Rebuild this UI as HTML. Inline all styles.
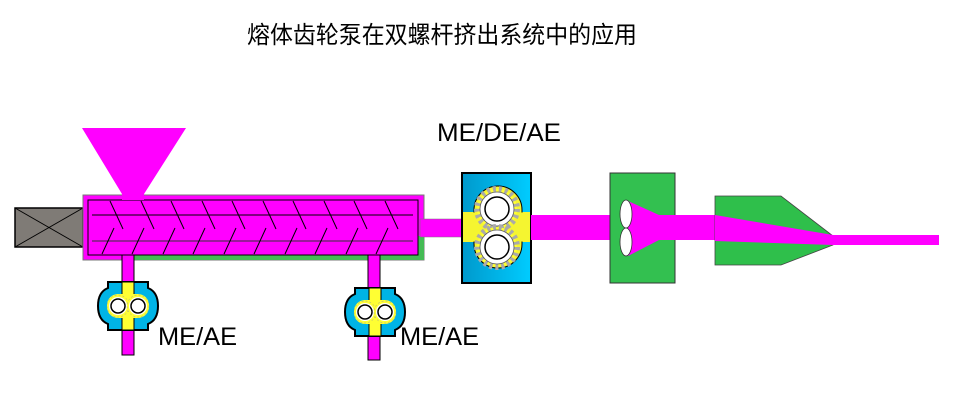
<!DOCTYPE html>
<html><head><meta charset="utf-8"><style>
html,body{margin:0;padding:0;background:#fff;}
svg{display:block;}
</style></head><body>
<svg width="979" height="403" viewBox="0 0 979 403" xmlns="http://www.w3.org/2000/svg">
<defs>
<linearGradient id="bl" x1="0" x2="1"><stop offset="0" stop-color="#0099cc"/><stop offset="1" stop-color="#00ccff"/></linearGradient>
<g id="gear">
<circle r="11" fill="#ffff33" stroke="#999" stroke-width="0.5" stroke-dasharray="2 2"/>
<circle r="9" fill="#fff"/>
<circle r="7" fill="#fff" stroke="#000" stroke-width="1.5"/>
</g>
<g id="bgear">
<circle r="20" fill="#ffff33" stroke="#aaa" stroke-width="6" stroke-dasharray="3 3"/>
<circle r="17" fill="#fff" stroke="#555" stroke-width="0.8"/>
<circle r="12" fill="#fff" stroke="#000" stroke-width="1.5"/>
</g>
<g id="spump">
<path d="M-20,-24 H20 V-18 Q30,-14 30,0 Q30,14 20,18 V24 H-20 V18 Q-30,14 -30,0 Q-30,-14 -20,-18 Z" fill="#00b4e6" stroke="#000" stroke-width="2"/>
<rect x="-6" y="-24" width="12" height="48" fill="#ffff33" stroke="#000" stroke-width="1"/>
<rect x="-21" y="-12" width="42" height="24" rx="11" fill="#ffff33"/>
<use href="#gear" x="-10" y="0"/>
<use href="#gear" x="10" y="0"/>
</g>
</defs>
<text x="247" y="43" font-family="'Liberation Sans','Noto Sans CJK SC',sans-serif" font-size="24" textLength="390" lengthAdjust="spacingAndGlyphs">熔体齿轮泵在双螺杆挤出系统中的应用</text>

<rect x="15" y="208" width="68" height="39" fill="#7f7b76" stroke="#000" stroke-width="1.5"/>
<line x1="15" y1="208" x2="83" y2="247" stroke="#000"/><line x1="15" y1="247" x2="83" y2="208" stroke="#000"/>
<rect x="83" y="195" width="341" height="65" fill="#ff00ff" stroke="#777" stroke-width="1"/>
<path d="M133,255 H418 V236 H424 V260 H133 Z" fill="#44bb55"/>
<rect x="88" y="200" width="330" height="55" fill="none" stroke="#000" stroke-width="1"/>
<line x1="92" y1="215" x2="413" y2="215" stroke="#000"/>
<line x1="92" y1="241" x2="413" y2="241" stroke="#333"/>
<g stroke="#000" stroke-width="1">
<path d="M110,201 l13,28 M141,201 l13,28 M171,201 l13,28 M202,201 l13,28 M232,201 l13,28 M263,201 l13,28 M293,201 l13,28 M324,201 l13,28 M354,201 l13,28 M385,201 l13,28"/>
<path d="M114,228 l-12,26 M144,228 l-12,26 M175,228 l-12,26 M205,228 l-12,26 M236,228 l-12,26 M266,228 l-12,26 M297,228 l-12,26 M327,228 l-12,26 M358,228 l-12,26 M388,228 l-12,26"/>
</g>
<polygon points="82,128 186,128 144,194 144,200 122,200 122,194" fill="#ff00ff"/>
<rect x="122" y="255" width="12" height="100" fill="#ff00ff" stroke="#000" stroke-width="1"/>
<rect x="368" y="255" width="12" height="105" fill="#ff00ff" stroke="#000" stroke-width="1"/>
<rect x="122.5" y="256" width="11" height="6" fill="#ff00ff"/>
<rect x="368.5" y="256" width="11" height="6" fill="#ff00ff"/>
<use href="#spump" x="128" y="306"/>
<use href="#spump" x="375" y="312"/>
<rect x="420" y="219" width="44" height="18" fill="#ff00ff" stroke="#777" stroke-width="0.5"/>
<rect x="462" y="173" width="69" height="110" fill="url(#bl)" stroke="#000" stroke-width="2"/>
<rect x="463" y="212" width="67" height="30" fill="#f5f530"/>
<rect x="474" y="186" width="48" height="82" rx="24" fill="#f5f530" stroke="#000" stroke-width="1"/>
<rect x="463" y="212.5" width="67" height="29" fill="#f5f530"/>
<use href="#bgear" x="497" y="209"/>
<use href="#bgear" x="497" y="247"/>
<rect x="531" y="215" width="90" height="25" fill="#ff00ff"/>
<rect x="610" y="173" width="65" height="110" fill="#33c050" stroke="#333" stroke-width="1"/>
<polygon points="628,201 659,215 715,215 715,240 659,240 628,256" fill="#ff00ff"/>
<ellipse cx="626" cy="214" rx="6" ry="14" fill="#fff" stroke="#333" stroke-width="0.8"/>
<ellipse cx="626" cy="242" rx="6" ry="14" fill="#fff" stroke="#333" stroke-width="0.8"/>
<polygon points="715,196 781,196 833,236 833,245 781,265 715,265" fill="#2fbf4b" stroke="#444" stroke-width="0.8"/>
<polygon points="715,215 833,235 939,235 939,245 833,245 715,241" fill="#ff00ff"/>
<g font-family="'Liberation Sans',sans-serif" font-size="25" fill="#000">
<text x="437" y="141" textLength="124" lengthAdjust="spacingAndGlyphs">ME/DE/AE</text>
<text x="158" y="345" textLength="79" lengthAdjust="spacingAndGlyphs">ME/AE</text>
<text x="400" y="345" textLength="79" lengthAdjust="spacingAndGlyphs">ME/AE</text>
</g>
</svg>
</body></html>
